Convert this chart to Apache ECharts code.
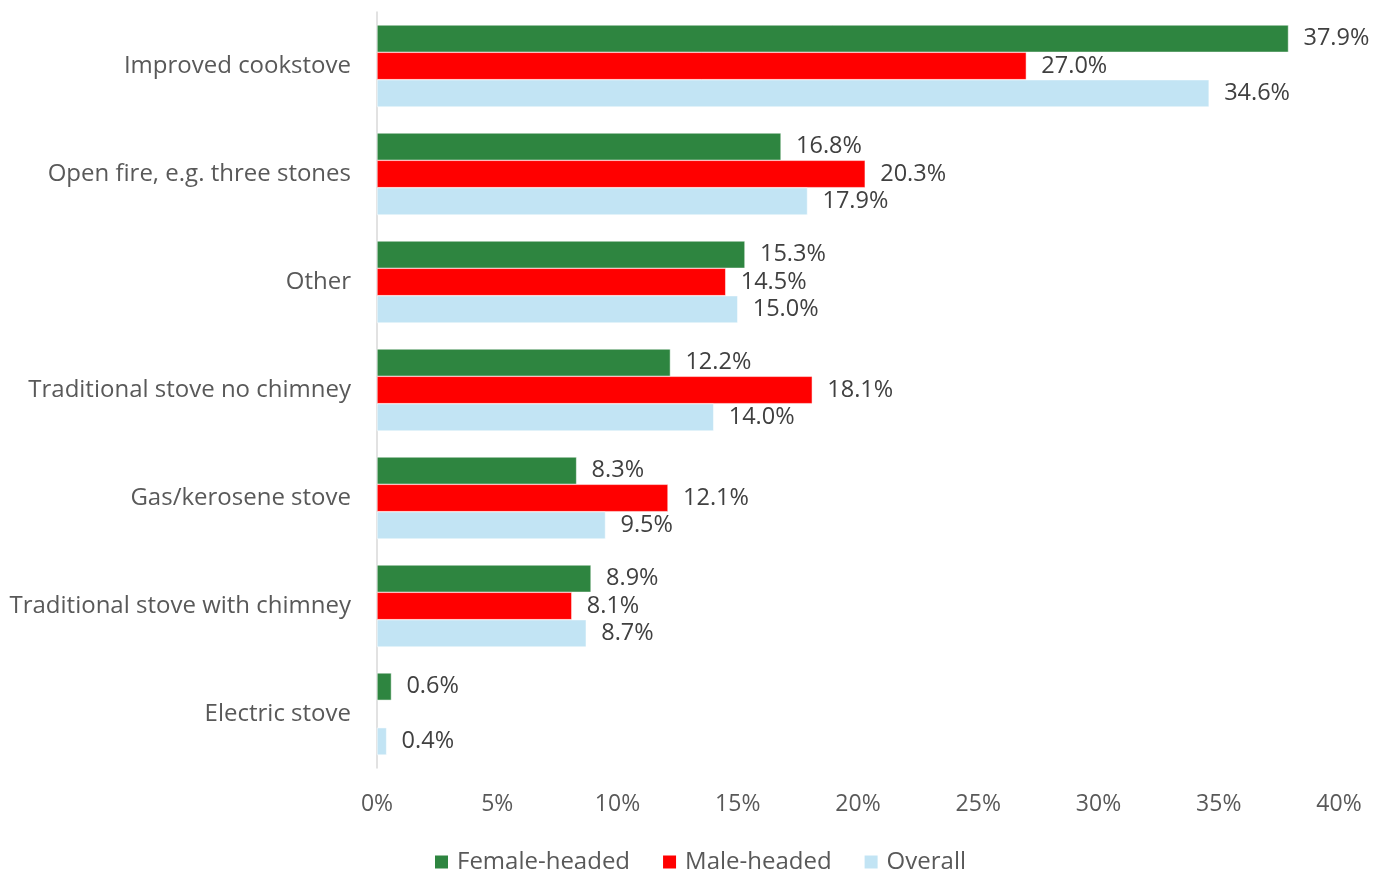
<!DOCTYPE html>
<html><head><meta charset="utf-8">
<script src="https://cdn.jsdelivr.net/npm/echarts@6/dist/echarts.min.js"></script>
<style>html,body{margin:0;padding:0;background:#fff}#c{width:1373px;height:870px}</style>
</head><body><div id="c"></div>
<script>
const categories = ["Improved cookstove","Open fire, e.g. three stones","Other","Traditional stove no chimney","Gas/kerosene stove","Traditional stove with chimney","Electric stove"];
const femaleHeaded = [37.9,16.8,15.3,12.2,8.3,8.9,0.6];
const maleHeaded = [27.0,20.3,14.5,18.1,12.1,8.1,null];
const overall = [34.6,17.9,15.0,14.0,9.5,8.7,0.4];
const seriesNames = ["Female-headed","Male-headed","Overall"];
const colors = ["#2E8540","#FF0000","#C2E4F4"];
const FONT = "'Open Sans', sans-serif";
const chart = echarts.init(document.getElementById('c'), null, {renderer:'canvas'});
function mk(name, data, color){
  return {name, type:'bar', data, barGap:'0%', barCategoryGap:'24%',
    itemStyle:{color, borderColor:'#fff', borderWidth:0.5},
    label:{show:true, position:'right', distance:15, color:'#404040', fontFamily:FONT, fontSize:23.5,
      formatter:p=> p.value==null?'':p.value.toFixed(1)+'%'}};
}
chart.setOption({
  animation:false,
  color:colors,
  grid:{left:377,right:34,top:12,bottom:102,containLabel:false},
  xAxis:{type:'value',min:0,max:40,interval:5,
    axisLabel:{formatter:'{value}%',color:'#595959',fontFamily:FONT,fontSize:23,margin:25},
    axisLine:{show:false},axisTick:{show:false},splitLine:{show:false}},
  yAxis:{type:'category',data:categories,inverse:true,
    axisLabel:{color:'#595959',fontFamily:FONT,fontSize:24,margin:26},
    axisLine:{show:true,lineStyle:{color:'#D9D9D9',width:1.5}},axisTick:{show:false}},
  legend:{bottom:-9,left:428,itemWidth:15,itemHeight:15,itemGap:31,icon:'rect',
    textStyle:{color:'#595959',fontFamily:FONT,fontSize:24,padding:[0,0,0,3]},data:seriesNames},
  series:[mk(seriesNames[0],femaleHeaded,colors[0]),mk(seriesNames[1],maleHeaded,colors[1]),mk(seriesNames[2],overall,colors[2])]
});
</script></body></html>
